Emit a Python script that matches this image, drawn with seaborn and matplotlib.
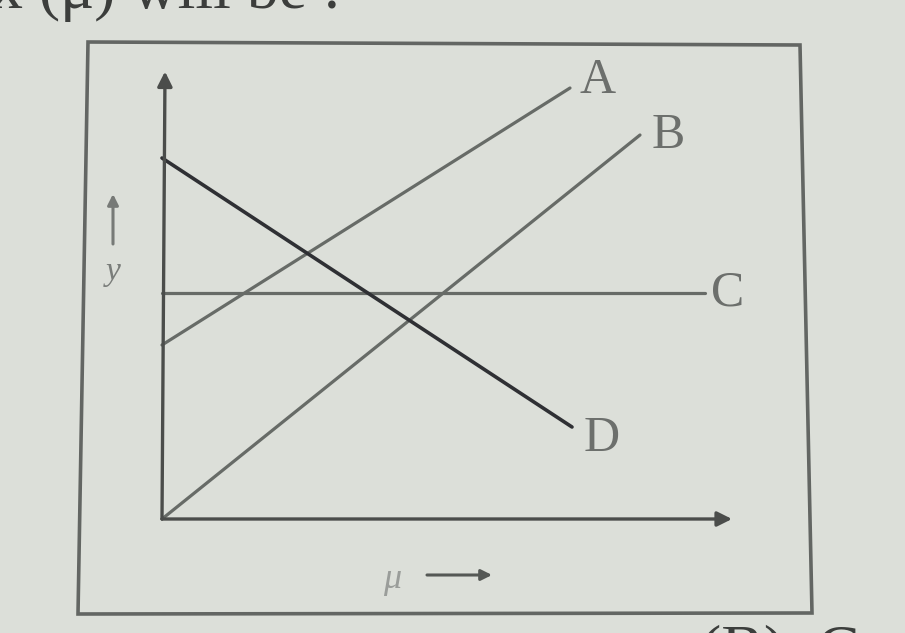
"""
Textbook sketch: four straight lines A-D on a y vs mu plot
"""

import numpy as np
import pandas as pd
import matplotlib.pyplot as plt
import seaborn as sns
from matplotlib.patches import Polygon

# line end points (x in mu units, y in y units)
line_names = ["A", "A", "B", "B", "C", "C", "D", "D"]
line_x = [0.0, 8.16, 0.0, 9.56, 0.0, 10.86, 0.0, 8.2]
line_y = [3.48, 8.62, 0.0, 7.68, 4.52, 4.52, 7.22, 1.84]

# where each letter sits next to its line
label_text = ["A", "B", "C", "D"]
label_x = [8.72, 10.12, 11.32, 8.8]
label_y = [8.76, 7.66, 4.52, 1.6]

# axis extents
x_axis_end = 11.4
y_axis_end = 8.95

BG = "#dcdfd9"
GREY = "#676b67"
DARK = "#2f3034"
AXIS = "#4b4d4b"

sns.set_theme(style="white")
plt.rcParams["font.family"] = ["Liberation Serif", "DejaVu Serif"]

df = pd.DataFrame({"line": line_names, "mu": line_x, "y": line_y})

fig = plt.figure(figsize=(9.05, 6.33), dpi=100)
fig.patch.set_facecolor(BG)
ax = fig.add_axes([0, 0, 1, 1])
ax.set_facecolor(BG)

sns.lineplot(data=df, x="mu", y="y", hue="line", sort=False,
             palette={"A": GREY, "B": GREY, "C": GREY, "D": DARK},
             legend=False, ax=ax)
for ln, name in zip(ax.get_lines(), ["A", "B", "C", "D"]):
    ln.set_linewidth(2.6 if name == "D" else 2.3)
    ln.set_solid_capstyle("round")

# axes with arrow heads
arrow = dict(arrowstyle="-|>", color=AXIS, lw=2.4, mutation_scale=22, shrinkA=0, shrinkB=0)
ax.annotate("", xy=(x_axis_end, 0), xytext=(0, 0), arrowprops=arrow)
ax.annotate("", xy=(0.06, y_axis_end), xytext=(0, 0), arrowprops=arrow)

for t, x, y in zip(label_text, label_x, label_y):
    ax.text(x, y, t, fontsize=36, color="#6c6f6c", ha="center", va="center")

# axis names
ax.text(-0.98, 4.95, "y", fontsize=24, style="italic", color="#7a7d7a", ha="center", va="center")
ax.annotate("", xy=(-0.98, 6.5), xytext=(-0.98, 5.5),
            arrowprops=dict(arrowstyle="-|>", color="#777a77", lw=2.2, mutation_scale=16,
                            shrinkA=0, shrinkB=0))
ax.text(4.6, -1.2, "μ", fontsize=26, style="italic", color="#9a9d9a", ha="center", va="center")
ax.annotate("", xy=(6.6, -1.12), xytext=(5.3, -1.12),
            arrowprops=dict(arrowstyle="-|>", color="#555855", lw=2.2, mutation_scale=16,
                            shrinkA=0, shrinkB=0))

ax.set_xlim(-3.24, 14.86)
ax.set_ylim(-2.28, 10.38)
ax.axis("off")

# frame around the figure (pixel coords, slightly skewed like the photo)
box = Polygon([[88 / 905, 1 - 42 / 633], [800 / 905, 1 - 45 / 633],
               [812 / 905, 1 - 613 / 633], [78 / 905, 1 - 614 / 633]],
              closed=True, fill=False, edgecolor="#636663", lw=2.6,
              transform=fig.transFigure)
fig.patches.append(box)

# cut-off question text above and answer choice below (cropped in the photo)
fig.text(-0.01, 1 - 8 / 633, "x (μ) will be :", fontsize=46, color="#3c3e3c",
         va="baseline", ha="left")
fig.text(700 / 905, 1 - 668 / 633, "(B)  C", fontsize=46, color="#3c3e3c",
         va="baseline", ha="left")

fig.savefig("out.png", dpi=100, facecolor=BG)
